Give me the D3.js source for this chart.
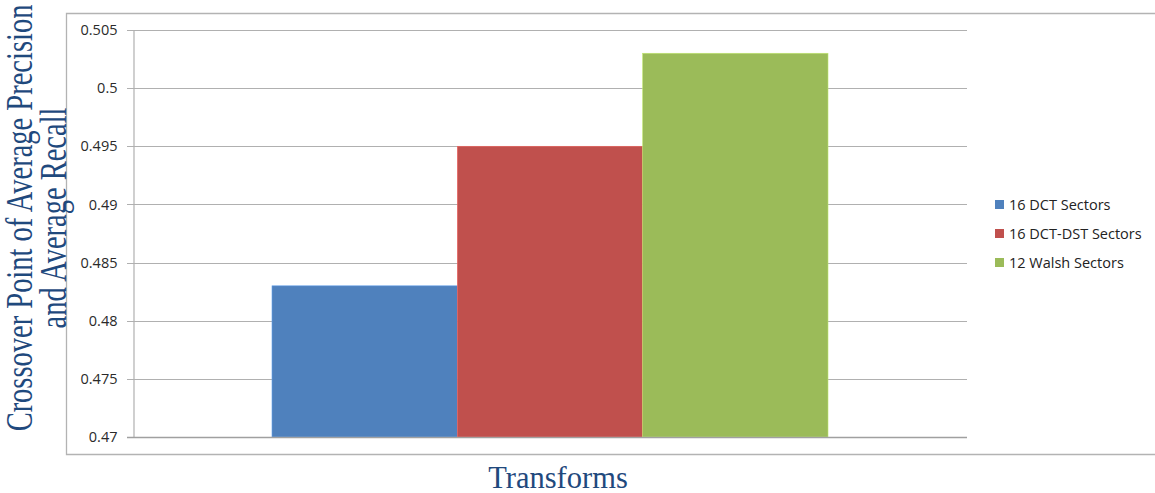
<!DOCTYPE html>
<html>
<head>
<meta charset="utf-8">
<script src="https://cdn.jsdelivr.net/npm/d3@7"></script>
<style>
  body { margin: 0; background: #fff; }
  svg { display: block; }
</style>
</head>
<body>
<div id="chart"></div>
<script>
// data
var categories = ["Transforms"];
var seriesNames = ["16 DCT Sectors", "16 DCT-DST Sectors", "12 Walsh Sectors"];
var seriesValues = [0.483, 0.495, 0.503];
var seriesColors = ["#4f81bd", "#c0504d", "#9bbb59"];
var yTicks = [0.47, 0.475, 0.48, 0.485, 0.49, 0.495, 0.5, 0.505];

var width = 1155, height = 493;
var plot = { left: 133, right: 967, top: 30, bottom: 437 };
var labelFont = "'Open Sans', 'Liberation Sans', Arial, sans-serif";
var titleFont = "'Liberation Serif', 'Times New Roman', serif";

var svg = d3.select("#chart").append("svg")
    .attr("width", width)
    .attr("height", height);

// outer chart frame (right side runs off the page)
svg.append("path")
    .attr("d", "M1155,13.5 H66.5 V454.5 H1155")
    .attr("fill", "none")
    .attr("stroke", "#b3b3b3")
    .attr("stroke-width", 1.3);

var y = d3.scaleLinear()
    .domain([0.47, 0.505])
    .range([plot.bottom, plot.top]);

var x0 = d3.scaleBand()
    .domain(categories)
    .range([plot.left, plot.right])
    .paddingInner(0)
    .paddingOuter(0.25);

var x1 = d3.scaleBand()
    .domain(seriesNames)
    .range([0, x0.bandwidth()]);

// gridlines
svg.append("g")
    .selectAll("line")
    .data(yTicks)
    .enter().append("line")
    .attr("x1", plot.left - 6)
    .attr("x2", plot.right)
    .attr("y1", function(d) { return Math.round(y(d)) + 0.5; })
    .attr("y2", function(d) { return Math.round(y(d)) + 0.5; })
    .attr("stroke", "#b0b0b0")
    .attr("stroke-width", 1.2);

// bars
svg.append("g")
    .selectAll("rect")
    .data(seriesValues)
    .enter().append("rect")
    .attr("x", function(d, i) { return x0(categories[0]) + x1(seriesNames[i]); })
    .attr("y", function(d) { return y(d); })
    .attr("width", x1.bandwidth())
    .attr("height", function(d) { return plot.bottom - y(d); })
    .attr("fill", function(d, i) { return seriesColors[i]; })
    .attr("stroke", function(d, i) { return d3.color(seriesColors[i]).brighter(0.6); })
    .attr("stroke-width", 0.6);

// y axis
var yAxis = d3.axisLeft(y)
    .tickValues(yTicks)
    .tickSize(0)
    .tickPadding(16)
    .tickFormat(function(d) { return d3.format("")(+d.toFixed(3)); });

var ax = svg.append("g")
    .attr("transform", "translate(" + (plot.left + 0.5) + ",0)")
    .call(yAxis);
ax.select(".domain").attr("stroke", "#b0b0b0").attr("stroke-width", 1.2);
ax.selectAll("text")
    .attr("font-family", labelFont)
    .attr("font-size", 14.5)
    .attr("fill", "#2a2a2a");

// bottom baseline
svg.append("line")
    .attr("x1", plot.left - 6).attr("x2", plot.right)
    .attr("y1", plot.bottom + 0.5).attr("y2", plot.bottom + 0.5)
    .attr("stroke", "#a0a0a0")
    .attr("stroke-width", 1.3);

// legend
var legend = svg.append("g")
    .selectAll("g")
    .data(seriesNames)
    .enter().append("g")
    .attr("transform", function(d, i) { return "translate(995," + (205 + i * 29) + ")"; });
legend.append("rect")
    .attr("x", 0).attr("y", -5)
    .attr("width", 9).attr("height", 9)
    .attr("fill", function(d, i) { return seriesColors[i]; });
legend.append("text")
    .attr("x", 14).attr("y", 0)
    .attr("dy", "0.35em")
    .attr("font-family", labelFont)
    .attr("font-size", 14.5)
    .attr("fill", "#222")
    .text(function(d) { return d; });

// axis titles
svg.append("text")
    .attr("transform", "translate(" + (x0(categories[0]) + x0.bandwidth() / 2 + 8) + ",488)")
    .attr("text-anchor", "middle")
    .attr("font-family", titleFont)
    .attr("font-size", 30.5)
    .attr("fill", "#1f497d")
    .text("Transforms");

// y title is squashed along its length in the original, so stretch it sideways
var yTitle = svg.append("text")
    .attr("transform", "translate(0,218) rotate(-90) scale(1,1.35)")
    .attr("text-anchor", "middle")
    .attr("font-family", titleFont)
    .attr("font-size", 28.5)
    .attr("fill", "#1f497d");
yTitle.append("tspan").attr("x", 0).attr("y", 23.5).text("Crossover Point of Average Precision");
yTitle.append("tspan").attr("x", 0).attr("y", 49).text("and Average Recall");
</script>
</body>
</html>
